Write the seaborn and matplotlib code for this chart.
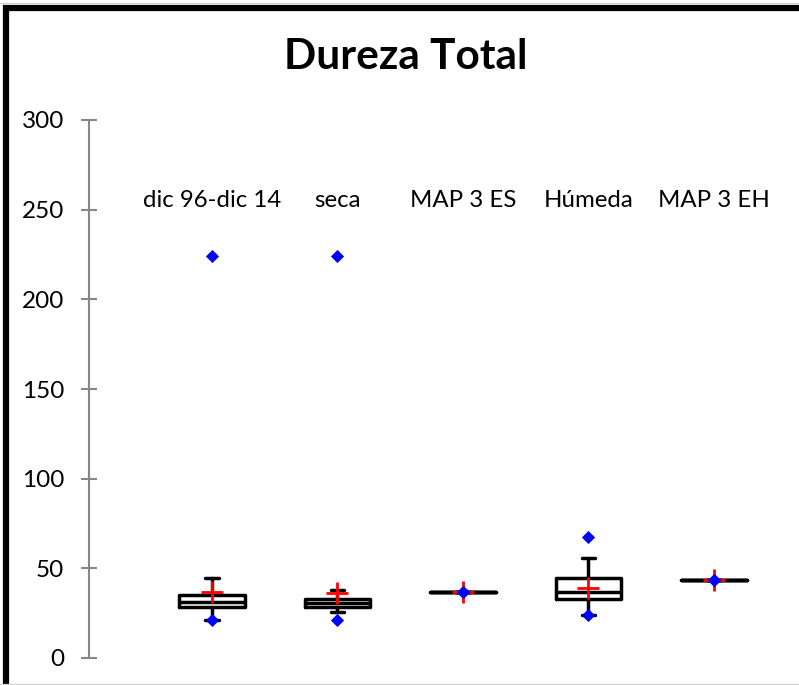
import matplotlib
matplotlib.use("Agg")
import matplotlib.pyplot as plt
from matplotlib.patches import Rectangle
from matplotlib.lines import Line2D
import seaborn as sns
import pandas as pd

categories = ["dic 96-dic 14", "seca", "MAP 3 ES", "Húmeda", "MAP 3 EH"]
q1 = [28.6, 28.6, 36.8, 32.7, 43.3]
median = [31.4, 30.5, 36.8, 37.0, 43.3]
q3 = [34.9, 32.7, 36.8, 44.4, 43.3]
whisker_low = [21.0, 25.6, 36.8, 24.0, 43.3]
whisker_high = [44.6, 37.9, 36.8, 55.9, 43.3]
mean = [36.8, 36.2, 36.8, 39.2, 43.3]
minimum = [21.0, 21.0, 36.8, 24.0, 43.3]
maximum = [224.0, 224.0, 36.8, 67.3, 43.3]
yticks = [0, 50, 100, 150, 200, 250, 300]

sns.set_theme(style="white")
plt.rcParams["font.family"] = ["Lato", "DejaVu Sans"]

W, H = 799, 685
fig = plt.figure(figsize=(W / 100, H / 100), dpi=100)
ax_left, ax_right = 89, 789
ax_top, ax_bottom = 120, 658
ax = fig.add_axes([ax_left / W, (H - ax_bottom) / H,
                   (ax_right - ax_left) / W, (ax_bottom - ax_top) / H])

pos = list(range(len(categories)))
stats = []
for i in pos:
    stats.append(dict(q1=q1[i], med=median[i], q3=q3[i],
                      whislo=whisker_low[i], whishi=whisker_high[i],
                      fliers=[], label=categories[i]))

line_kw = dict(color="black", linewidth=2.5)
ax.bxp(stats, positions=pos, widths=0.52, capwidths=0.11,
       showfliers=False, boxprops=line_kw, medianprops=line_kw,
       whiskerprops=line_kw, capprops=line_kw, manage_ticks=False)

ext = pd.DataFrame({"x": pos * 2, "y": minimum + maximum})
sns.scatterplot(data=ext, x="x", y="y", marker="D", s=45, color="#0000ff",
                edgecolor="#0000ff", linewidth=0, zorder=5, ax=ax)
avg = pd.DataFrame({"x": pos, "y": mean})
sns.scatterplot(data=avg, x="x", y="y", marker="+", s=260, color="#ff0000",
                linewidth=2, zorder=4, ax=ax)

for i, name in zip(pos, categories):
    ax.text(i, 255, name, ha="center", va="center", fontsize=17.3, color="black")

span = 125.5
ax.set_xlim(-0.98, -0.98 + (ax_right - ax_left) / span)
ax.set_ylim(0, 300)
ax.set_yticks(yticks)
ax.set_xticks([])
ax.set_xlabel("")
ax.set_ylabel("")
for s in ["top", "right", "bottom"]:
    ax.spines[s].set_visible(False)
ax.spines["left"].set_color("#868686")
ax.spines["left"].set_linewidth(1.5)
ax.tick_params(axis="y", direction="inout", length=11.5, width=1.5,
               color="#868686", labelsize=17.5, pad=12, labelcolor="black", left=True)

fig.text(406 / W, 1 - 57 / H, "Dureza Total", ha="center", va="center",
         fontsize=30.5, fontweight="bold", color="black")

# outer chart frame
fig.patches.append(Rectangle((6 / W, -0.2), 1.2, (H - 7.5) / H + 0.2,
                             transform=fig.transFigure, fill=False,
                             edgecolor="black", linewidth=4.5))
fig.lines.append(Line2D([0, 1], [1 - 3 / H, 1 - 3 / H], transform=fig.transFigure,
                        color="#d0d0d0", linewidth=1))
fig.lines.append(Line2D([0, 1], [1.5 / H, 1.5 / H], transform=fig.transFigure,
                        color="#d0d0d0", linewidth=1))

fig.savefig("out.png", dpi=100)
